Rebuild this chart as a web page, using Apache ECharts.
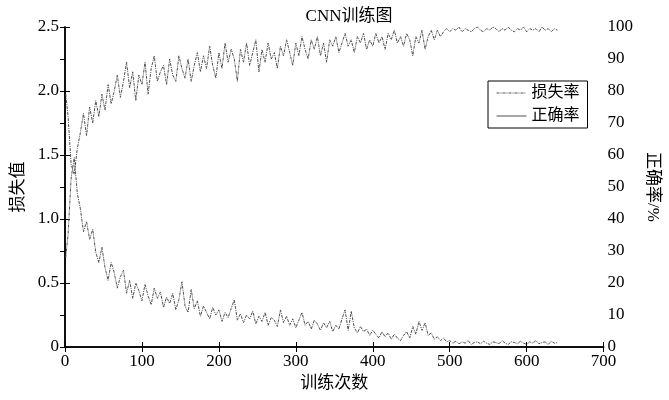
<!DOCTYPE html>
<html>
<head>
<meta charset="utf-8">
<script src="https://cdn.jsdelivr.net/npm/echarts@6/dist/echarts.min.js"></script>
<style>
  html, body { margin: 0; padding: 0; background: #fff; }
  #main { width: 669px; height: 400px; }
</style>
</head>
<body>
<div id="main"></div>
<script>
// 训练次数 (sampled)
var iters = [1, 4, 8, 12, 16, 20, 24, 28, 32, 36, 40, 44, 48, 52, 56, 60, 64, 68, 72, 76, 80,
  84, 88, 92, 96, 100, 104, 108, 112, 116, 120, 124, 128, 132, 136, 140, 144, 148, 152, 156, 160,
  164, 168, 172, 176, 180, 184, 188, 192, 196, 200, 204, 208, 212, 216, 220, 224, 228, 232, 236, 240,
  244, 248, 252, 256, 260, 264, 268, 272, 276, 280, 284, 288, 292, 296, 300, 304, 308, 312, 316, 320,
  324, 328, 332, 336, 340, 344, 348, 352, 356, 360, 364, 368, 372, 376, 380, 384, 388, 392, 396, 400,
  404, 408, 412, 416, 420, 424, 428, 432, 436, 440, 444, 448, 452, 456, 460, 464, 468, 472, 476, 480,
  484, 488, 492, 496, 500, 504, 508, 512, 516, 520, 524, 528, 532, 536, 540, 544, 548, 552, 556, 560,
  564, 568, 572, 576, 580, 584, 588, 592, 596, 600, 604, 608, 612, 616, 620, 624, 628, 632, 636, 640];

// 损失率
var lossVals = [0.70, 0.88, 1.32, 1.48, 1.20, 1.08, 0.90, 0.98, 0.84, 0.92, 0.74, 0.66, 0.78, 0.62, 0.52, 0.66, 0.58, 0.46, 0.55, 0.60, 0.42,
  0.52, 0.38, 0.50, 0.44, 0.36, 0.49, 0.40, 0.33, 0.46, 0.38, 0.43, 0.31, 0.39, 0.34, 0.42, 0.29, 0.37, 0.51, 0.32, 0.27,
  0.45, 0.30, 0.36, 0.24, 0.32, 0.27, 0.22, 0.31, 0.25, 0.29, 0.20, 0.27, 0.23, 0.30, 0.37, 0.21, 0.26, 0.19, 0.25, 0.22,
  0.28, 0.18, 0.24, 0.20, 0.27, 0.17, 0.23, 0.21, 0.16, 0.29, 0.19, 0.24, 0.17, 0.22, 0.15, 0.21, 0.27, 0.17, 0.20, 0.14,
  0.21, 0.18, 0.13, 0.19, 0.15, 0.20, 0.12, 0.17, 0.14, 0.22, 0.29, 0.13, 0.28, 0.15, 0.11, 0.16, 0.12, 0.14, 0.09, 0.13,
  0.10, 0.07, 0.12, 0.08, 0.11, 0.06, 0.10, 0.07, 0.05, 0.09, 0.12, 0.07, 0.16, 0.10, 0.20, 0.13, 0.19, 0.09, 0.11, 0.06,
  0.08, 0.05, 0.07, 0.04, 0.05, 0.03, 0.045, 0.025, 0.04, 0.03, 0.05, 0.02, 0.035, 0.04, 0.025, 0.045, 0.03, 0.02, 0.04, 0.035,
  0.025, 0.05, 0.03, 0.02, 0.04, 0.035, 0.025, 0.045, 0.03, 0.02, 0.04, 0.03, 0.05, 0.025, 0.035, 0.04, 0.02, 0.045, 0.03, 0.035];

// 正确率 (%)
var accVals = [79, 72, 57, 54, 62, 67, 73, 66, 75, 70, 77, 72, 79, 74, 82, 76, 80, 85, 78, 83, 89,
  81, 86, 77, 85, 82, 89, 79, 87, 91, 83, 86, 88, 82, 90, 85, 83, 91, 87, 84, 90,
  83, 88, 92, 86, 91, 87, 94, 88, 84, 92, 87, 95, 89, 93, 90, 83, 93, 89, 95, 88,
  92, 96, 86, 93, 89, 95, 90, 92, 87, 94, 91, 96, 92, 88, 95, 91, 97, 93, 90, 96,
  93, 97, 91, 95, 89, 96, 94, 97, 92, 95, 98, 94, 96, 92, 97, 95, 98, 93, 96, 94,
  98, 95, 97, 93, 98, 96, 99, 95, 97, 94, 98, 96, 91, 97, 95, 99, 93, 97, 99, 96,
  99, 97, 98.5, 99.5, 98.5, 99.5, 99, 100, 98.5, 99.5, 99, 98.5, 99.5, 100, 99, 98.5, 99.5, 99, 100, 99.5,
  98.5, 99.5, 99, 100, 99, 98.5, 99.5, 99, 100, 98.5, 99.5, 99, 99.5, 98.5, 100, 99, 99.5, 98.5, 99.5, 99];

var lossData = iters.map(function (x, i) { return [x, lossVals[i]]; });
var accData = iters.map(function (x, i) { return [x, accVals[i]]; });

var serif = '"Liberation Serif", "Noto Sans CJK SC", serif';
var lineColor = '#505050';
var dashDot = [3, 1, 1, 1];
var noMark = { color: 'rgba(0,0,0,0)', borderWidth: 0, opacity: 0 };

var myChart = echarts.init(document.getElementById('main'));

myChart.setOption({
  animation: false,
  backgroundColor: '#fff',
  title: {
    text: 'CNN训练图',
    left: 344,
    textAlign: 'center',
    top: 3,
    textStyle: { fontFamily: serif, fontSize: 17, fontWeight: 'normal', color: '#000' }
  },
  legend: {
    left: 488,
    top: 81,
    orient: 'vertical',
    backgroundColor: '#fff',
    borderColor: '#000',
    borderWidth: 1,
    borderRadius: 0,
    padding: [4, 8, 4, 8],
    itemWidth: 30,
    itemHeight: 12,
    itemGap: 7,
    textStyle: { fontFamily: serif, fontSize: 16, color: '#000' },
    data: [
      { name: '损失率', itemStyle: noMark, lineStyle: { type: dashDot, width: 1, color: lineColor } },
      { name: '正确率', itemStyle: noMark, lineStyle: { type: 'solid', width: 1, color: lineColor } }
    ]
  },
  grid: { left: 65, right: 46, top: 27, bottom: 53, containLabel: false },
  xAxis: [{
    type: 'value',
    min: 0, max: 700, interval: 100,
    name: '训练次数',
    nameLocation: 'middle',
    nameGap: 27,
    nameTextStyle: { fontFamily: serif, fontSize: 17, color: '#000' },
    axisLine: { lineStyle: { color: '#000', width: 1.5 } },
    axisTick: { inside: true, length: 5, lineStyle: { color: '#000' } },
    axisLabel: { fontFamily: serif, fontSize: 17, color: '#000', margin: 6 },
    splitLine: { show: false }
  }, {
    type: 'value',
    position: 'top',
    min: 0, max: 700, interval: 100,
    axisLine: { lineStyle: { color: '#000', width: 1.5 } },
    axisTick: { inside: true, length: 5, lineStyle: { color: '#000' } },
    axisLabel: { show: false },
    splitLine: { show: false }
  }],
  yAxis: [{
    type: 'value',
    min: 0, max: 2.5, interval: 0.5,
    name: '损失值',
    nameLocation: 'middle',
    nameGap: 38,
    nameTextStyle: { fontFamily: serif, fontSize: 17, color: '#000' },
    axisLine: { show: true, lineStyle: { color: '#000', width: 1.5 } },
    axisTick: { show: true, inside: true, length: 5, lineStyle: { color: '#000' } },
    axisLabel: {
      fontFamily: serif, fontSize: 17, color: '#000', margin: 6,
      formatter: function (v) { return v === 0 ? '0' : v.toFixed(1); }
    },
    splitLine: { show: false }
  }, {
    type: 'value',
    position: 'right',
    min: 0, max: 100, interval: 10,
    name: '正确率/%',
    nameLocation: 'middle',
    nameRotate: -90,
    nameGap: 36,
    nameTextStyle: { fontFamily: serif, fontSize: 17, color: '#000' },
    axisLine: { show: true, lineStyle: { color: '#000', width: 1.5 } },
    axisTick: { show: true, inside: true, length: 5, lineStyle: { color: '#000' } },
    axisLabel: { fontFamily: serif, fontSize: 17, color: '#000', margin: 4 },
    splitLine: { show: false }
  }],
  series: [{
    name: '损失率',
    type: 'line',
    xAxisIndex: 0,
    yAxisIndex: 0,
    data: lossData,
    showSymbol: false,
    symbol: 'none',
    color: lineColor,
    lineStyle: { color: lineColor, width: 1, type: dashDot }
  }, {
    name: '正确率',
    type: 'line',
    xAxisIndex: 0,
    yAxisIndex: 1,
    data: accData,
    showSymbol: false,
    symbol: 'none',
    color: lineColor,
    lineStyle: { color: lineColor, width: 1, type: dashDot }
  }]
});
</script>
</body>
</html>
